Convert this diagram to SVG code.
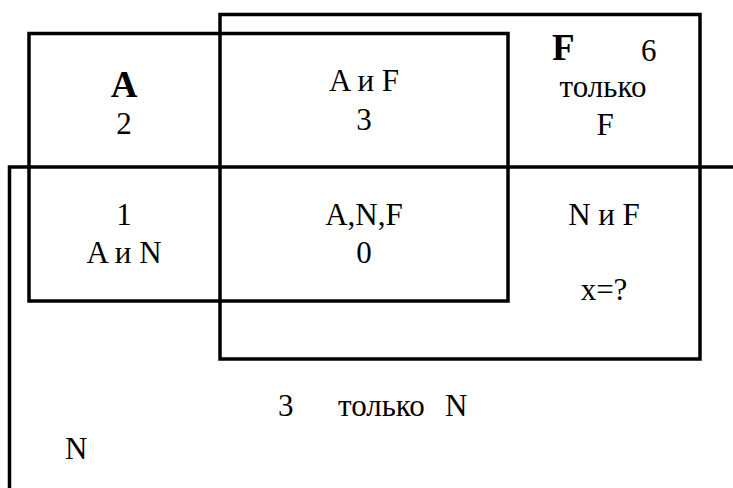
<svg xmlns="http://www.w3.org/2000/svg" width="733" height="488" viewBox="0 0 733 488">
  <style>
    .frame { fill: none; stroke: #000; stroke-width: 3.5; }
    text { font-family: 'Liberation Serif', 'DejaVu Serif', serif; fill: #000; }
    .t { font-size: 31px; }
    .b { font-size: 37px; font-weight: bold; }
    .c { text-anchor: middle; }
  </style>
  <rect width="733" height="488" fill="#fff"/>

  <!-- set outlines -->
  <g id="set-A">
    <rect class="frame" x="29" y="33.5" width="479" height="267.5"/>
  </g>
  <g id="set-F">
    <rect class="frame" x="220" y="14.5" width="480" height="344.5"/>
  </g>
  <g id="set-N">
    <path class="frame" d="M733 167 H9.5 V488"/>
  </g>

  <!-- region labels -->
  <g id="only-A" font-family="Liberation Serif, serif">
    <text class="b c" x="124" y="97">A</text>
    <text class="t c" x="124" y="134">2</text>
  </g>
  <g id="A-and-F">
    <text class="t c" x="364" y="91">A и F</text>
    <text class="t c" x="364" y="130">3</text>
  </g>
  <g id="only-F">
    <text class="b" x="552" y="60">F</text>
    <text class="t" x="641" y="61">6</text>
    <text class="t c" x="603" y="97">только</text>
    <text class="t c" x="605" y="135">F</text>
  </g>
  <g id="A-and-N">
    <text class="t c" x="124" y="225">1</text>
    <text class="t c" x="124" y="263">A и N</text>
  </g>
  <g id="A-N-F">
    <text class="t c" x="364" y="225">A,N,F</text>
    <text class="t c" x="364" y="263">0</text>
  </g>
  <g id="N-and-F">
    <text class="t c" x="604" y="225">N и F</text>
    <text class="t c" x="604" y="300">x=?</text>
  </g>
  <g id="only-N">
    <text class="t" y="416"><tspan x="278">3</tspan><tspan x="338">только</tspan><tspan x="445">N</tspan></text>
    <text class="t" x="65" y="459">N</text>
  </g>
</svg>
